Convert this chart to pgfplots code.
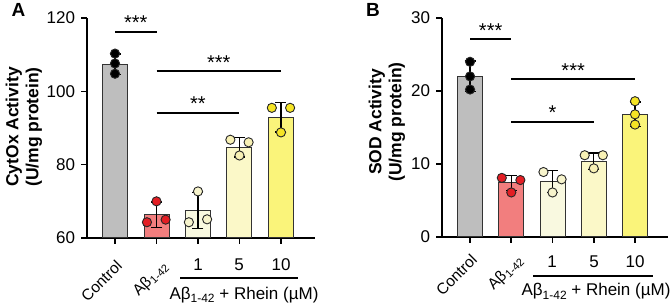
\documentclass[border=0pt]{standalone}
\usepackage{pgfplots}
\pgfplotsset{compat=1.18}
\usepackage{fontspec}
\setmainfont{Liberation Sans}
\definecolor{cbar}{HTML}{BEBEBE}
\definecolor{abar}{HTML}{F27E7E}
\definecolor{onebar}{HTML}{F9F9E0}
\definecolor{fivebar}{HTML}{FBF8C8}
\definecolor{tenbar}{HTML}{FAF47A}
\definecolor{apt}{HTML}{E31E24}
\definecolor{onept}{HTML}{F7F4CC}
\definecolor{fivept}{HTML}{F8F1B5}
\definecolor{tenpt}{HTML}{F5E425}
\pgfplotsset{
 panel/.style={scale only axis, anchor=south west,
   axis x line*=bottom, axis y line*=left,
   axis line style={line width=1.8pt, black},
   tick style={line width=1.6pt, black}, tick align=outside, major tick length=6pt,
   xtick={0,1,2,3,4}, xticklabels={}, clip mode=individual,
   ticklabel style={font=\fontsize{17}{17}\selectfont},
   yticklabel style={xshift=-2.5pt},
   /pgf/number format/assume math mode=true},
 bar/.style={ybar, bar width=25pt, bar shift=0pt, draw=black!80, line width=1pt,
   error bars/y dir=both, error bars/y explicit,
   error bars/error bar style={line width=1.2pt, black},
   error bars/error mark options={rotate=90, mark size=5.5pt, line width=1.2pt, black}},
 pts/.style={only marks, mark=*, mark size=4.6pt, mark options={fill=#1, draw=black!85, line width=0.9pt}},
 sig/.style={line width=2pt, black},
}
\tikzset{star/.style={anchor=base, font=\fontsize{20}{20}\selectfont, yshift=2pt}}
\newcommand{\ab}{Aβ\raisebox{-3.5pt}{\fontsize{12}{12}\selectfont 1-42}}
\newcommand{\abr}{Aβ\raisebox{-3pt}{\fontsize{11}{11}\selectfont 1-42}}
\begin{document}
\begin{tikzpicture}[x=1pt,y=1pt]
\useasboundingbox (0,0) rectangle (671,304);
% Panel A
\begin{axis}[panel, at={(87pt,66pt)}, width=228pt, height=220pt,
  xmin=-0.675, xmax=4.82, ymin=60, ymax=120, ytick={60,80,100,120}]
\addplot[fill=cbar, bar] coordinates {(0,107.4) +- (0,2.8)};
\addplot[fill=abar, bar] coordinates {(1,66.3) +- (0,3.5)};
\addplot[fill=onebar, bar] coordinates {(2,67.4) +- (0,4.9)};
\addplot[fill=fivebar, bar] coordinates {(3,84.8) +- (0,2.7)};
\addplot[fill=tenbar, bar] coordinates {(4,92.9) +- (0,4.0)};
\addplot[pts=black] coordinates {(0,110.3)(0,107.6)(0,104.8)};
\addplot[pts=apt] coordinates {(0.77,64.3)(1,70.0)(1.22,65.0)};
\addplot[pts=onept] coordinates {(1.78,64.3)(2,72.7)(2.22,65.1)};
\addplot[pts=fivept] coordinates {(2.78,86.8)(3,82.5)(3.22,86.1)};
\addplot[pts=tenpt] coordinates {(3.78,95.5)(4,88.8)(4.22,95.5)};
\addplot[sig] coordinates {(0,116.2)(1,116.2)};
\addplot[sig] coordinates {(1,105.5)(4,105.5)};
\addplot[sig] coordinates {(1,94.1)(3,94.1)};
\node[star] at (axis cs:0.5,116.2) {***};
\node[star] at (axis cs:2.5,105.5) {***};
\node[star] at (axis cs:2,94.1) {**};
\end{axis}
% Panel B
\begin{axis}[panel, at={(442pt,67pt)}, width=226pt, height=219pt,
  xmin=-0.68, xmax=4.8, ymin=0, ymax=30, ytick={0,10,20,30}]
\addplot[fill=cbar, bar] coordinates {(0,22.0) +- (0,2.1)};
\addplot[fill=abar, bar] coordinates {(1,7.4) +- (0,1.05)};
\addplot[fill=onebar, bar] coordinates {(2,7.6) +- (0,1.5)};
\addplot[fill=fivebar, bar] coordinates {(3,10.4) +- (0,1.1)};
\addplot[fill=tenbar, bar] coordinates {(4,16.8) +- (0,1.7)};
\addplot[pts=black] coordinates {(0,24.0)(0,22.0)(0,20.2)};
\addplot[pts=apt] coordinates {(0.77,8.1)(1,6.1)(1.22,7.8)};
\addplot[pts=onept] coordinates {(1.78,8.9)(2,6.1)(2.22,7.9)};
\addplot[pts=fivept] coordinates {(2.78,11.2)(3,9.4)(3.22,11.2)};
\addplot[pts=tenpt] coordinates {(4,18.6)(4,16.8)(4,15.4)};
\addplot[sig] coordinates {(0,27.1)(1,27.1)};
\addplot[sig] coordinates {(1,21.6)(4,21.6)};
\addplot[sig] coordinates {(1,15.8)(3,15.8)};
\node[star] at (axis cs:0.5,27.1) {***};
\node[star] at (axis cs:2.5,21.6) {***};
\node[star] at (axis cs:2,15.8) {*};
\end{axis}
% Panel letters
\node[font=\fontsize{19}{19}\selectfont\bfseries] at (18.5,294) {A};
\node[font=\fontsize{19}{19}\selectfont\bfseries] at (373,294) {B};
% y labels
\node[rotate=90, align=center, font=\fontsize{17.5}{20}\selectfont\bfseries] at (24,177) {CytOx Activity\\(U/mg protein)};
\node[rotate=90, align=center, font=\fontsize{17.5}{20}\selectfont\bfseries] at (387,182) {SOD Activity\\(U/mg protein)};
% x labels A
\begin{scope}[every node/.style={font=\fontsize{17}{17}\selectfont, inner sep=0pt}]
\node[rotate=45, anchor=north east, font=\fontsize{15.5}{15.5}\selectfont] at (115,45) {Control};
\node[rotate=45, anchor=north east, font=\fontsize{15.5}{15.5}\selectfont] at (160,45) {\abr};
\node at (198,39) {1};
\node at (239,39) {5};
\node at (281,39) {10};
\draw[line width=1.8pt] (180,26) -- (298,26);
\node[anchor=base] at (244,4.5) {\ab{} + Rhein (µM)};
% x labels B
\node[rotate=45, anchor=north east, font=\fontsize{15.5}{15.5}\selectfont] at (470,51) {Control};
\node[rotate=45, anchor=north east, font=\fontsize{15.5}{15.5}\selectfont] at (515,51) {\abr};
\node at (552,42) {1};
\node at (594,42) {5};
\node at (635,42) {10};
\draw[line width=1.8pt] (533,28) -- (653,28);
\node[anchor=base] at (596,8) {\ab{} + Rhein (µM)};
\end{scope}
\end{tikzpicture}
\end{document}
